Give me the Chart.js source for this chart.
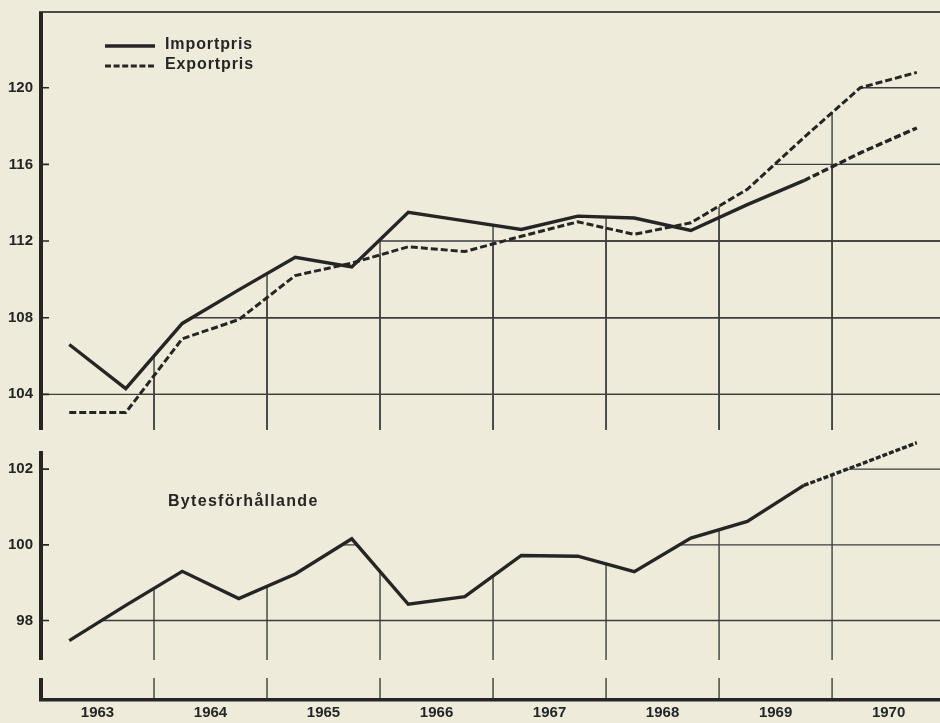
<!DOCTYPE html>
<html><head><meta charset="utf-8">
<script src="https://cdn.jsdelivr.net/npm/chart.js@4.4.1/dist/chart.umd.min.js"></script>
<style>
html,body{margin:0;padding:0;background:#eeebda;width:940px;height:723px;overflow:hidden;}
canvas{position:absolute;left:0;}
#top{top:0;} #bot{top:440px;}
</style></head><body>
<canvas id="top" width="940" height="440"></canvas>
<canvas id="bot" width="940" height="283"></canvas>
<script>
// ---- data ----
const years = [1963, 1964, 1965, 1966, 1967, 1968, 1969, 1970];
const yearBounds = [1964, 1965, 1966, 1967, 1968, 1969, 1970];
const halfYears = [1963.25, 1963.75, 1964.25, 1964.75, 1965.25, 1965.75, 1966.25, 1966.75,
                   1967.25, 1967.75, 1968.25, 1968.75, 1969.25, 1969.75, 1970.25, 1970.75];
const importPris = [106.6, 104.3, 107.7, 109.45, 111.15, 110.65, 113.5, 113.05,
                    112.6, 113.3, 113.2, 112.55, 113.9, 115.15, 116.6, 117.9];
const exportPris = [103.05, 103.05, 106.9, 107.9, 110.2, 110.85, 111.7, 111.45,
                    112.25, 113.0, 112.35, 112.95, 114.7, 117.4, 120.0, 120.8];
const bytesforhallande = [97.47, 98.4, 99.3, 98.58, 99.23, 100.16, 98.43, 98.63,
                          99.72, 99.7, 99.29, 100.18, 100.62, 101.57, 102.13, 102.7];
const upperTicks = [104, 108, 112, 116, 120];
const lowerTicks = [98, 100, 102];
const forecastFrom = 13; // segments after this half-year are forecasts (dashed)

// ---- style ----
const ink = '#252525';
const gridInk = '#3d3d3d';
const FONT = 'Liberation Sans, Arial, Helvetica, sans-serif';
const pts = arr => halfYears.map((t, i) => ({x: t, y: arr[i]}));
const xRange = {min: 1963, max: 1970.955};

const gridPlugin = {
  id: 'paperGrid',
  beforeDatasetsDraw(chart, args, o) {
    const {ctx, chartArea: a, scales: {x, y}} = chart;
    const brk = o.breakRange ? [y.getPixelForValue(o.breakRange[1]), y.getPixelForValue(o.breakRange[0])] : null;
    o.envelope.forEach(i => {
      const p = chart.getDatasetMeta(i).data;
      ctx.save();
      ctx.beginPath();
      ctx.moveTo(a.left, p[0].y);
      p.forEach(q => ctx.lineTo(q.x, q.y));
      ctx.lineTo(a.right + 5, p[p.length - 1].y);
      ctx.lineTo(a.right + 5, a.bottom + 5);
      ctx.lineTo(a.left, a.bottom + 5);
      ctx.closePath();
      ctx.clip();
      ctx.strokeStyle = gridInk;
      ctx.lineWidth = 1.4;
      ctx.beginPath();
      o.hTicks.forEach(v => {
        const py = y.getPixelForValue(v);
        ctx.moveTo(a.left, py); ctx.lineTo(a.right, py);
      });
      yearBounds.forEach(t => {
        const px = x.getPixelForValue(t);
        if (brk) {
          ctx.moveTo(px, a.top); ctx.lineTo(px, brk[0]);
          ctx.moveTo(px, brk[1]); ctx.lineTo(px, a.bottom);
        } else {
          ctx.moveTo(px, a.top); ctx.lineTo(px, a.bottom);
        }
      });
      ctx.stroke();
      ctx.restore();
    });
    // inner tick marks
    ctx.save();
    ctx.strokeStyle = ink; ctx.lineWidth = 1.6;
    ctx.beginPath();
    o.hTicks.forEach(v => {
      const py = y.getPixelForValue(v);
      ctx.moveTo(a.left, py); ctx.lineTo(a.left + 8, py);
    });
    ctx.stroke();
    ctx.restore();
  },
  afterDatasetsDraw(chart, args, o) {
    const {ctx, chartArea: a, scales: {y}} = chart;
    ctx.save();
    ctx.fillStyle = ink;
    if (o.breakRange) {
      const b0 = y.getPixelForValue(o.breakRange[1]);
      const b1 = y.getPixelForValue(o.breakRange[0]);
      ctx.fillRect(a.left - 2, a.top, 4, b0 - a.top);
      ctx.fillRect(a.left - 2, b1, 4, a.bottom - b1);
      ctx.fillRect(a.left - 2, a.bottom - 2, a.right - a.left + 2, 3.5);
    } else {
      ctx.fillRect(a.left - 2, a.top, 4, a.bottom - a.top);
      ctx.fillRect(a.left - 2, a.top - 0.8, a.right - a.left + 2, 1.6);
    }
    ctx.restore();
  },
  afterDraw(chart, args, o) {
    const {ctx} = chart;
    ctx.save();
    ctx.fillStyle = ink;
    ctx.font = 'bold 16px ' + FONT;
    ctx.textBaseline = 'middle';
    ctx.textAlign = 'left';
    try { ctx.letterSpacing = o.letterSpacing || '0px'; } catch (e) {}
    (o.legend || []).forEach(item => {
      const ds = chart.data.datasets[item.index];
      ctx.strokeStyle = ds.borderColor;
      ctx.lineWidth = item.lineWidth;
      ctx.setLineDash(item.dash || []);
      ctx.beginPath();
      ctx.moveTo(item.x0, item.y); ctx.lineTo(item.x1, item.y);
      ctx.stroke();
      ctx.setLineDash([]);
      ctx.fillText(ds.label, item.tx, item.y - 1);
    });
    if (o.caption) {
      const ds = chart.data.datasets[o.caption.index];
      ctx.fillText(ds.label, o.caption.x, o.caption.y);
    }
    ctx.restore();
  }
};

const yTickFont = {family: FONT, size: 15, weight: 'bold'};
function yScale(min, max, ticks) {
  return {
    min, max,
    afterFit: s => { s.width = 41; s.paddingTop = 0; s.paddingBottom = 0; },
    afterBuildTicks: s => { s.ticks = ticks.map(v => ({value: v})); },
    grid: {display: false, drawTicks: false},
    border: {display: false},
    ticks: {padding: 8, color: ink, font: yTickFont}
  };
}

const lineDs = (label, arr, width, dashAll, forecastDash) => ({
  label, data: pts(arr), borderColor: ink, borderWidth: width,
  pointRadius: 0, tension: 0, fill: false, clip: false,
  borderDash: dashAll || [], borderCapStyle: 'butt', borderJoinStyle: 'miter',
  segment: forecastDash ? {borderDash: c => c.p0DataIndex >= forecastFrom ? forecastDash : undefined} : undefined
});

new Chart(document.getElementById('top'), {
  type: 'line',
  data: {datasets: [
    lineDs('Importpris', importPris, 3.4, null, [7, 3]),
    lineDs('Exportpris', exportPris, 3, [7, 3], null)
  ]},
  options: {
    responsive: false, animation: false, devicePixelRatio: 1,
    layout: {padding: {top: 12, bottom: 10, left: 0, right: 0}},
    scales: {
      x: {type: 'linear', ...xRange, display: false},
      y: yScale(102.14, 123.95, upperTicks)
    },
    plugins: {
      legend: {display: false}, tooltip: {enabled: false},
      paperGrid: {
        envelope: [0, 1], hTicks: upperTicks, breakRange: null, letterSpacing: '0.9px',
        legend: [
          {index: 0, x0: 105, x1: 155, y: 46, tx: 165, lineWidth: 3.4},
          {index: 1, x0: 105, x1: 155, y: 66, tx: 165, lineWidth: 3, dash: [6, 2.6]}
        ]
      }
    }
  },
  plugins: [gridPlugin]
});

new Chart(document.getElementById('bot'), {
  type: 'line',
  data: {datasets: [
    lineDs('Bytesförhållande', bytesforhallande, 3.4, null, [5, 2])
  ]},
  options: {
    responsive: false, animation: false, devicePixelRatio: 1,
    layout: {padding: {top: 11, bottom: 0, left: 0, right: 0}},
    scales: {
      x: {
        type: 'linear', ...xRange, position: 'bottom',
        afterFit: s => { s.height = 23; s.paddingLeft = 0; s.paddingRight = 0; },
        afterBuildTicks: s => { s.ticks = years.map(v => ({value: v + 0.5})); },
        grid: {display: false, drawTicks: false},
        border: {display: false},
        ticks: {autoSkip: false, maxRotation: 0, padding: 4, color: ink, font: yTickFont,
                callback: (v, i) => String(years[i])}
      },
      y: yScale(95.9, 102.48, lowerTicks)
    },
    plugins: {
      legend: {display: false}, tooltip: {enabled: false},
      paperGrid: {
        envelope: [0], hTicks: lowerTicks, breakRange: [96.48, 96.957], letterSpacing: '1.3px',
        caption: {index: 0, x: 168, y: 62}
      }
    }
  },
  plugins: [gridPlugin]
});
</script>
</body></html>
